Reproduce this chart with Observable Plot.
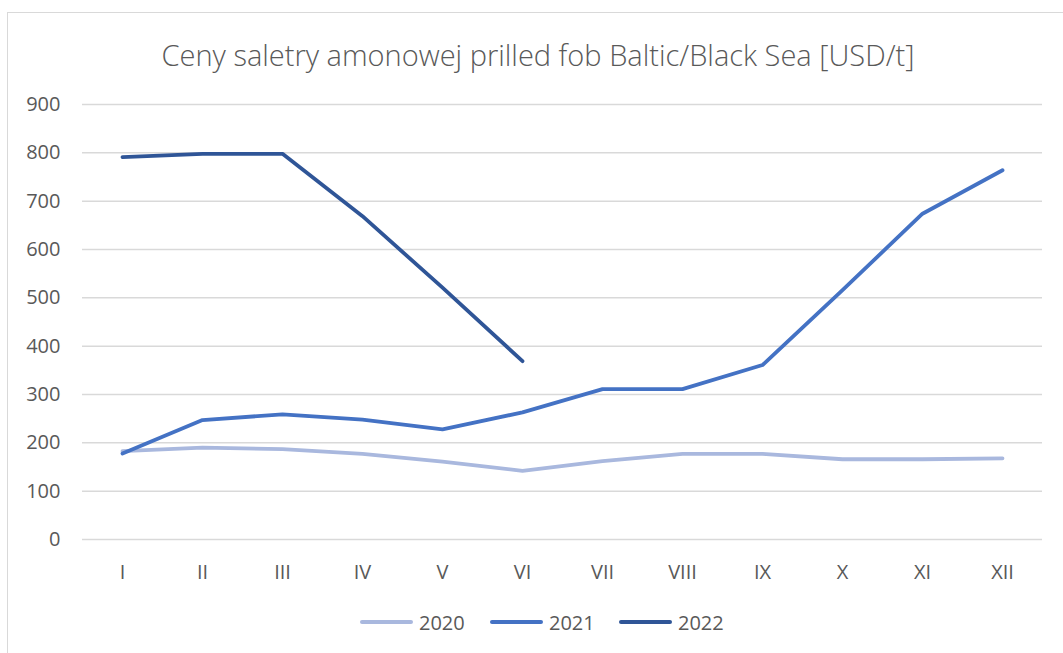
<!DOCTYPE html>
<html>
<head>
<meta charset="utf-8">
<script src="https://cdn.jsdelivr.net/npm/d3@7"></script>
<script src="https://cdn.jsdelivr.net/npm/@observablehq/plot@0.6"></script>
<style>
  html, body { margin: 0; padding: 0; background: #fff; }
  #wrap { position: relative; width: 1063px; height: 653px; overflow: hidden; font-family: "Open Sans", sans-serif; }
  #frame { position: absolute; left: 7px; top: 12px; width: 2000px; height: 2000px; border-left: 1px solid #d9d9d9; border-top: 1px solid #d9d9d9; pointer-events: none; }
  #title { height: 90px; width: 1076px; box-sizing: border-box; padding-top: 35px; text-align: center; font-size: 29px; font-weight: 300; color: #595959; line-height: 40px; white-space: nowrap; }
  #chart svg { display: block; }
  #legend { height: 63px; position: relative; }
  .item { position: absolute; top: 20px; height: 24px; display: flex; align-items: center; font-size: 20px; color: #595959; }
  .swatch { width: 53px; height: 4px; border-radius: 2px; margin-right: 6px; }
</style>
</head>
<body>
<div id="wrap">
  <div id="frame"></div>
  <div id="title">Ceny saletry amonowej prilled fob Baltic/Black Sea [USD/t]</div>
  <div id="chart"></div>
  <div id="legend"></div>
</div>
<script>
const months = ["I","II","III","IV","V","VI","VII","VIII","IX","X","XI","XII"];
const series = ["2020","2021","2022"];
const colors = ["#a9b8de","#4472c4","#2f5597"];
const v2020 = [183,190,187,177,161,142,162,177,177,166,166,168];
const v2021 = [178,247,259,248,228,263,311,311,361,516,674,764];
const v2022 = [791,798,798,669,521,369];
const yTicks = [0,100,200,300,400,500,600,700,800,900];

const rows = [];
[v2020, v2021, v2022].forEach((vals, i) => {
  vals.forEach((v, j) => rows.push({series: series[i], month: months[j], value: v}));
});

const plot = Plot.plot({
  width: 1063,
  height: 500,
  marginLeft: 82,
  marginRight: 21,
  marginTop: 14,
  marginBottom: 51,
  style: {fontFamily: "'Open Sans', sans-serif", fontSize: "20px", color: "#595959", background: "transparent"},
  x: {type: "point", domain: months, padding: 0.5, round: false, label: null},
  y: {domain: [0, 900], ticks: yTicks, label: null},
  color: {domain: series, range: colors},
  marks: [
    Plot.gridY(yTicks, {stroke: "#d9d9d9", strokeOpacity: 1, strokeWidth: 1.5}),
    Plot.axisY(yTicks, {tickSize: 0, tickPadding: 22, fontSize: 20, fill: "#595959", label: null}),
    Plot.axisX({tickSize: 0, tickPadding: 25, fontSize: 20, fill: "#595959", label: null}),
    Plot.line(rows, {x: "month", y: "value", z: "series", stroke: "series", strokeWidth: 3.8, strokeLinecap: "round", strokeLinejoin: "round"})
  ]
});
document.getElementById("chart").appendChild(plot);

const legend = document.getElementById("legend");
const lefts = [360, 490, 619];
series.forEach((s, i) => {
  const item = document.createElement("div");
  item.className = "item";
  item.style.left = lefts[i] + "px";
  const sw = document.createElement("span");
  sw.className = "swatch";
  sw.style.background = colors[i];
  const t = document.createElement("span");
  t.textContent = s;
  item.appendChild(sw);
  item.appendChild(t);
  legend.appendChild(item);
});
</script>
</body>
</html>
